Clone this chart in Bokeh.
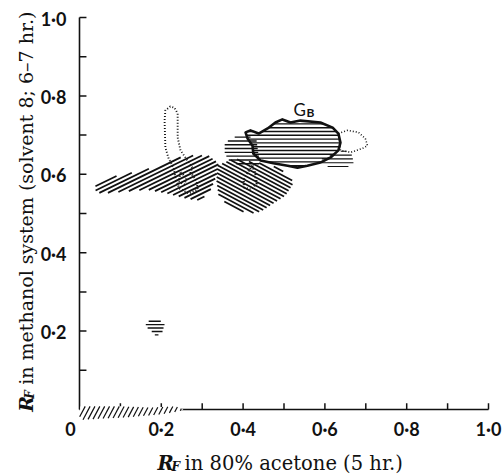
import math
from bokeh.plotting import figure
from bokeh.models import Range1d, Label
from bokeh.core.properties import value
from bokeh.embed import file_html
from bokeh.resources import INLINE

# ---- axis ticks ----
x_ticks = [0.1, 0.2, 0.3, 0.4, 0.5, 0.6, 0.7, 0.8, 0.9, 1.0]
y_ticks = [0.1, 0.2, 0.3, 0.4, 0.5, 0.6, 0.7, 0.8, 0.9, 1.0]
x_label_ticks = [0.2, 0.4, 0.6, 0.8, 1.0]
x_tick_labels = ["0·2", "0·4", "0·6", "0·8", "1·0"]
y_label_ticks = [0.2, 0.4, 0.6, 0.8, 1.0]
y_tick_labels = ["0·2", "0·4", "0·6", "0·8", "1·0"]
origin_label = "0"

# ---- spots (Rf in acetone, Rf in methanol system) ----
slash_x = [0.039, 0.083, 0.142, 0.191, 0.227, 0.279, 0.315, 0.340, 0.335, 0.320, 0.296, 0.264, 0.215, 0.166, 0.051, 0.039]
slash_y = [0.577, 0.594, 0.607, 0.620, 0.640, 0.648, 0.648, 0.628, 0.597, 0.559, 0.533, 0.538, 0.551, 0.561, 0.551, 0.559]

back_x = [0.337, 0.377, 0.411, 0.447, 0.484, 0.516, 0.523, 0.504, 0.474, 0.443, 0.418, 0.389, 0.364, 0.340, 0.335]
back_y = [0.622, 0.640, 0.633, 0.628, 0.617, 0.594, 0.577, 0.546, 0.526, 0.505, 0.500, 0.508, 0.520, 0.546, 0.584]

hleft_x = [0.355, 0.374, 0.411, 0.433, 0.438, 0.447, 0.406, 0.369, 0.355]
hleft_y = [0.679, 0.694, 0.699, 0.686, 0.648, 0.628, 0.622, 0.630, 0.653]

hright_x = [0.584, 0.626, 0.650, 0.667, 0.670, 0.650, 0.614]
hright_y = [0.635, 0.656, 0.661, 0.648, 0.628, 0.615, 0.615]

gb_x = [0.406, 0.418, 0.438, 0.460, 0.479, 0.496, 0.516, 0.540, 0.589, 0.619, 0.633, 0.638, 0.633, 0.614, 0.589, 0.557, 0.533, 0.509, 0.474, 0.443, 0.425, 0.423, 0.411]
gb_y = [0.707, 0.712, 0.704, 0.717, 0.732, 0.740, 0.732, 0.737, 0.732, 0.719, 0.704, 0.681, 0.661, 0.643, 0.630, 0.622, 0.617, 0.622, 0.628, 0.635, 0.653, 0.673, 0.691]

lobe_x = [0.633, 0.655, 0.682, 0.699, 0.704, 0.692, 0.663, 0.638, 0.633]
lobe_y = [0.704, 0.712, 0.707, 0.691, 0.673, 0.666, 0.656, 0.661, 0.704]

loop_x = [0.276, 0.264, 0.247, 0.240, 0.240, 0.232, 0.222, 0.210, 0.208, 0.210, 0.218, 0.230, 0.235, 0.244, 0.267, 0.289, 0.286, 0.271, 0.276]
loop_y = [0.617, 0.635, 0.661, 0.694, 0.755, 0.770, 0.773, 0.763, 0.737, 0.668, 0.640, 0.617, 0.589, 0.564, 0.551, 0.561, 0.584, 0.605, 0.617]

curl_x = [0.247, 0.262, 0.257, 0.242, 0.247]
curl_y = [0.605, 0.592, 0.574, 0.582, 0.605]

squig_x = [0.423, 0.411, 0.401, 0.403, 0.418, 0.433, 0.430, 0.423]
squig_y = [0.622, 0.605, 0.584, 0.566, 0.561, 0.577, 0.600, 0.622]

small_x = [0.164, 0.193, 0.208, 0.203, 0.188, 0.174, 0.161]
small_y = [0.224, 0.230, 0.217, 0.199, 0.186, 0.202, 0.212]

origin_x = [0.002, 0.100, 0.174, 0.235, 0.254, 0.242, 0.193, 0.112, 0.007, 0.000]
origin_y = [0.008, 0.008, 0.005, 0.008, 0.000, -0.005, -0.013, -0.020, -0.026, -0.018]

INK = "#111111"
SANS = "Lato"
SERIF = "DejaVu Serif"

# pixels per Rf unit on each axis (used only to lay hatch lines at even screen spacing)
SX, SY = 409.0, 392.0


def hatch(xs, ys, angle_deg, gap):
    """Parallel hatch lines clipped to the outline (xs, ys)."""
    th = math.radians(angle_deg)
    dx, dy = math.cos(th), math.sin(th)
    nx, ny = -dy, dx
    pts = [(x * SX, y * SY) for x, y in zip(xs, ys)]
    if pts[0] != pts[-1]:
        pts.append(pts[0])
    cs = [nx * u + ny * v for u, v in pts]
    x0s, y0s, x1s, y1s = [], [], [], []
    c = min(cs) + gap / 2 + 0.0137
    while c < max(cs):
        hits = []
        for i in range(len(pts) - 1):
            c1, c2 = cs[i], cs[i + 1]
            if (c1 - c) * (c2 - c) < 0:
                t = (c - c1) / (c2 - c1)
                u = pts[i][0] + t * (pts[i + 1][0] - pts[i][0])
                v = pts[i][1] + t * (pts[i + 1][1] - pts[i][1])
                hits.append((dx * u + dy * v, u, v))
        hits.sort()
        for k in range(0, len(hits) - 1, 2):
            x0s.append(hits[k][1] / SX)
            y0s.append(hits[k][2] / SY)
            x1s.append(hits[k + 1][1] / SX)
            y1s.append(hits[k + 1][2] / SY)
        c += gap
    return dict(x0=x0s, y0=y0s, x1=x1s, y1=y1s)


# the frame covers the whole canvas; the chart's own axes are drawn as marks
p = figure(width=502, height=474,
           x_range=Range1d(-79 / 409, 423 / 409), y_range=Range1d(-65 / 392, 409 / 392),
           output_backend="svg", toolbar_location=None,
           x_axis_location=None, y_axis_location=None,
           min_border=0)
p.grid.visible = False
p.outline_line_color = None
p.background_fill_color = "white"
p.border_fill_color = "white"

# axis lines and inward ticks
p.segment(x0=[0, 0], y0=[0, 0], x1=[x_ticks[-1], 0], y1=[0, y_ticks[-1]], line_color=INK, line_width=1.6)
p.segment(x0=x_ticks, y0=[0] * len(x_ticks), x1=x_ticks, y1=[0.016] * len(x_ticks), line_color=INK, line_width=1.5)
p.segment(x0=[0] * len(y_ticks), y0=y_ticks, x1=[0.017] * len(y_ticks), y1=y_ticks, line_color=INK, line_width=1.5)

# tick labels
TICK_FONT = dict(text_font=value(SANS), text_font_style="bold", text_font_size="18px", text_color=INK)
p.text(x=x_label_ticks, y=[0] * len(x_label_ticks), text=x_tick_labels, y_offset=19,
       text_align="center", text_baseline="alphabetic", **TICK_FONT)
p.text(x=[0] * len(y_label_ticks), y=y_label_ticks, text=y_tick_labels, x_offset=-13, y_offset=1,
       text_align="right", text_baseline="middle", **TICK_FONT)
p.text(x=[0], y=[0], text=[origin_label], x_offset=-9, y_offset=19,
       text_align="center", text_baseline="alphabetic", **TICK_FONT)

# hatched spots
p.patch(origin_x, origin_y, fill_color="white", line_color=None)
p.segment(line_color=INK, line_width=1.2, **hatch(origin_x, origin_y, 62, 4.3))
p.segment(line_color=INK, line_width=1.8, **hatch(slash_x, slash_y, 26, 3.8))
p.segment(line_color=INK, line_width=1.7, **hatch(back_x, back_y, -28, 3.6))
p.segment(line_color=INK, line_width=1.4, **hatch(hleft_x, hleft_y, 0, 3.8))
p.segment(line_color=INK, line_width=1.1, **hatch(hright_x, hright_y, 0, 3.8))
p.segment(line_color=INK, line_width=1.4, **hatch(small_x, small_y, 0, 3.4))
p.segment(line_color=INK, line_width=1.4, **hatch(gb_x, gb_y, 0, 3.8))
p.patch(gb_x, gb_y, fill_color=None, line_color=INK, line_width=2.6, line_join="round")

# dotted outlines
for xs, ys, w in ((lobe_x, lobe_y, 1.6), (loop_x, loop_y, 1.9), (curl_x, curl_y, 2.0), (squig_x, squig_y, 2.4)):
    p.line(xs, ys, line_color=INK, line_width=w, line_dash="1 2")

# spot name
p.add_layout(Label(x=0.523, y=0.765, text="G", text_font=SANS, text_font_size="17px", text_color=INK,
                   text_baseline="alphabetic"))
p.add_layout(Label(x=0.523, y=0.758, x_offset=13, text="B", text_font=SANS, text_font_style="bold",
                   text_font_size="12px", text_color=INK, text_baseline="alphabetic"))

TITLE = dict(text_font=SERIF, text_color=INK, text_baseline="alphabetic")
# x axis title
XT, YT = 0.191, -0.1378
p.add_layout(Label(x=XT, y=YT, text="R", text_font_style="bold italic", text_font_size="19.5px", **TITLE))
p.add_layout(Label(x=XT, y=YT, x_offset=14, y_offset=-3, text="F", text_font_style="bold italic", text_font_size="12px", **TITLE))
p.add_layout(Label(x=XT, y=YT, x_offset=27, text="in 80% acetone (5 hr.)", text_font_size="19.5px", **TITLE))
# y axis title
A = math.pi / 2
XL, YL = -0.132, -0.006
p.add_layout(Label(x=XL, y=YL, angle=A, text="R", text_font_style="bold italic", text_font_size="19px", **TITLE))
p.add_layout(Label(x=XL, y=YL, angle=A, x_offset=4, y_offset=13, text="F", text_font_style="bold italic", text_font_size="12px", **TITLE))
p.add_layout(Label(x=XL, y=YL, angle=A, y_offset=27, text="in methanol system (solvent 8; 6–7 hr.)", text_font_size="19px", **TITLE))

open("out.html", "w").write(file_html(p, INLINE))
